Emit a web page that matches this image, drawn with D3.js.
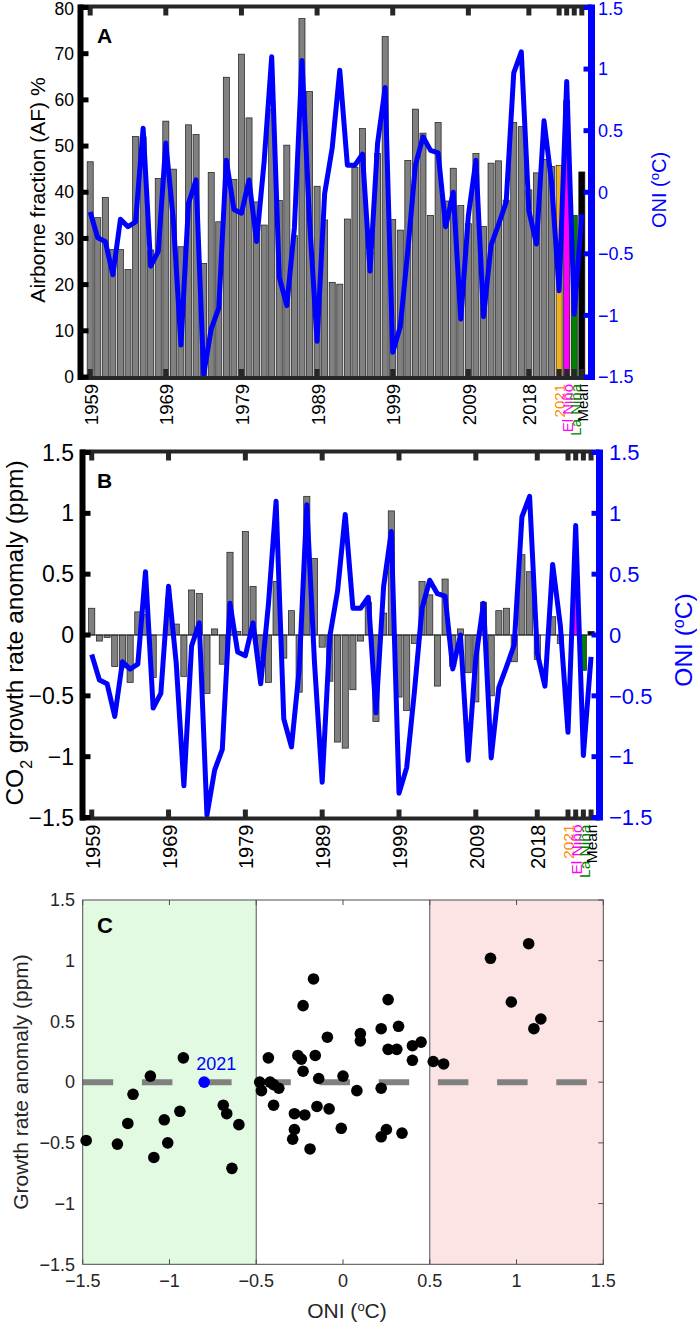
<!DOCTYPE html>
<html><head><meta charset="utf-8">
<script src="https://cdn.jsdelivr.net/npm/d3@7"></script>
<style>
body{margin:0;background:#fff}
svg{display:block}
text{font-family:"Liberation Sans",Arial,Helvetica,sans-serif}
</style>
</head><body>
<svg id="chart" width="697" height="1340"></svg>
<script>
// ---------------- DATA ----------------
// categories: annual bars 1959-2020, then 2021 and composite bars
const yearCats = d3.range(1959, 2021).map(String);
const extraCats = ["2021", "El Niño", "La Niña", "Mean"];
const categories = yearCats.concat(extraCats);

// Airborne fraction (%)
const airborneFraction = [
  46.6, 34.5, 38.9, 27.6, 27.6, 23.3, 52.1, 52.0, 27.5, 43.0,
  55.4, 45.0, 28.2, 54.6, 52.5, 24.6, 44.3, 33.6, 64.9, 42.8,
  69.9, 56.1, 37.9, 32.9, 58.0, 38.2, 50.2, 30.6, 77.6, 61.8,
  41.3, 34.0, 20.5, 20.1, 34.2, 45.4, 53.8, 27.0, 48.4, 73.7,
  34.1, 31.8, 46.9, 58.0, 52.8, 35.0, 55.1, 38.1, 45.2, 37.1,
  33.2, 48.4, 32.6, 46.3, 46.8, 38.3, 55.1, 54.2, 40.5, 44.2,
  47.1, 45.6,
  45.8, 59.8, 35.0, 44.4
];

// Oceanic Nino Index (deg C)
const oni = [
  -0.16, -0.37, -0.40, -0.67, -0.22, -0.28, -0.24, 0.52, -0.60, -0.48,
   0.40, -0.23, -1.24, -0.09, 0.10, -1.48, -1.11, -0.94, 0.26, -0.14,
  -0.17, 0.10, -0.40, 0.25, 1.10, -0.69, -0.92, -0.29, 1.07, -0.23,
  -1.21, -0.01, 0.36, 0.99, 0.22, 0.22, 0.31, -0.64, 0.40, 0.85,
  -1.30, -1.09, -0.47, 0.22, 0.45, 0.34, 0.32, -0.28, 0.00, -1.03,
  -0.19, 0.26, -1.01, -0.43, -0.26, -0.08, 0.97, 1.14, -0.15, -0.42,
   0.58, 0.08,
  -0.80, 0.90, -0.99, -0.18
];

// CO2 growth rate anomaly (ppm)
const growthAnomaly = [
   0.22, -0.05, -0.02, -0.26, -0.27, -0.39, 0.19, 0.17, -0.35, 0.00,
   0.30, 0.09, -0.34, 0.37, 0.34, -0.48, 0.05, -0.24, 0.68, 0.03,
   0.85, 0.40, -0.19, -0.39, 0.44, -0.19, 0.20, -0.47, 1.14, 0.63,
  -0.10, -0.38, -0.88, -0.93, -0.45, -0.05, 0.27, -0.71, 0.18, 1.02,
  -0.51, -0.62, -0.07, 0.44, 0.33, -0.42, 0.46, -0.26, 0.05, -0.31,
  -0.55, 0.27, -0.50, 0.20, 0.22, -0.22, 0.66, 0.52, -0.20, 0.00,
   0.15, -0.07,
   0.00, 0.59, -0.29, 0.03
];

// x tick labels of panels A and B (category index of each tick)
const xTickLabels = ["1959", "1969", "1979", "1989", "1999", "2009", "2018", "2021", "El Niño", "La Niña", "Mean"];
const xTickIndex  = [0, 10, 20, 30, 40, 50, 58, 62, 63, 64, 65];

const afTicks = [0, 10, 20, 30, 40, 50, 60, 70, 80];
const oniTicks = [-1.5, -1, -0.5, 0, 0.5, 1, 1.5];
const graTicks = [-1.5, -1, -0.5, 0, 0.5, 1, 1.5];
const scatterTicks = [-1.5, -1, -0.5, 0, 0.5, 1, 1.5];

// scatter: years 1959-2021, excluding Pinatubo years
const scatterYears = d3.range(1959, 2022);
const excludedYears = [1991, 1992];
const highlightYear = 2021;

// ---------------- DRAW ----------------
const svg = d3.select("#chart");
const BLUE = "#0000ff";
const AXC = "#262626";
const fmt = v => (v < 0 ? "\u2212" : "") + String(Math.abs(v));
const barColor = c => c === "El Niño" ? "#ff00ff" : c === "La Niña" ? "#008000" : c === "Mean" ? "#000000" : "#edb120";
const labColor = l => l === "2021" ? "#ff8c00" : l === "El Niño" ? "#ff00ff" : l === "La Niña" ? "#008000" : "#000";

function framePanel(P, xs, yearFont, extraFont) {
  const g = svg.append("g");
  g.append("line").attr("x1", P.l - 2).attr("x2", P.r).attr("y1", P.t - 1).attr("y2", P.t - 1)
    .attr("stroke", AXC).attr("stroke-width", 4);
  g.append("line").attr("x1", P.l - 2).attr("x2", P.r).attr("y1", P.b + 1).attr("y2", P.b + 1)
    .attr("stroke", AXC).attr("stroke-width", 4);
  xTickIndex.forEach(i => {
    const x = xs(i);
    g.append("line").attr("x1", x).attr("x2", x).attr("y1", P.t).attr("y2", P.t + 8)
      .attr("stroke", AXC).attr("stroke-width", 5);
    g.append("line").attr("x1", x).attr("x2", x).attr("y1", P.b).attr("y2", P.b - 8)
      .attr("stroke", AXC).attr("stroke-width", 5);
  });
  xTickIndex.forEach((i, j) => {
    const lab = xTickLabels[j];
    const extra = j >= 7;
    g.append("text").attr("transform", `translate(${xs(i) + 1},${P.b + 7}) rotate(-90)`)
      .attr("text-anchor", "end").attr("dy", "0.35em")
      .attr("font-size", extra ? extraFont : yearFont).attr("fill", labColor(lab)).text(lab);
  });
  return g;
}

// ===== Panel A =====
const PA = {l: 80.5, r: 591.5, t: 7.5, b: 377};
const xA = d3.scaleLinear().domain([-1.28, 66.28]).range([PA.l, PA.r]);
const yA = d3.scaleLinear().domain([0, 80]).range([PA.b, PA.t]);
const oA = d3.scaleLinear().domain([-1.5, 1.5]).range([PA.b, PA.t]);
const stepA = xA(1) - xA(0);

svg.append("g").selectAll("rect").data(categories).join("rect")
  .attr("x", (d, i) => xA(i) - stepA * 0.4)
  .attr("width", stepA * 0.8)
  .attr("y", (d, i) => yA(airborneFraction[i]))
  .attr("height", (d, i) => yA(0) - yA(airborneFraction[i]))
  .attr("fill", (d, i) => i >= 62 ? barColor(d) : "#808080")
  .attr("stroke", "#1a1a1a").attr("stroke-width", 0.7);

svg.append("path").datum(oni)
  .attr("d", d3.line().x((d, i) => xA(i)).y(d => oA(d)))
  .attr("fill", "none").attr("stroke", BLUE).attr("stroke-width", 5).attr("stroke-linejoin", "round");

framePanel(PA, xA, 18.5, 15);
svg.append("line").attr("x1", PA.l).attr("x2", PA.l).attr("y1", PA.t - 3).attr("y2", PA.b + 3)
  .attr("stroke", "#000").attr("stroke-width", 6);
afTicks.forEach(v => {
  svg.append("line").attr("x1", PA.l).attr("x2", PA.l + 8).attr("y1", yA(v)).attr("y2", yA(v))
    .attr("stroke", "#000").attr("stroke-width", 5);
  svg.append("text").attr("x", 74).attr("y", yA(v) + (v === 80 ? 1.5 : 0)).attr("dy", "0.35em").attr("text-anchor", "end")
    .attr("font-size", 17.5).attr("fill", "#000").text(v);
});
svg.append("line").attr("x1", PA.r).attr("x2", PA.r).attr("y1", PA.t - 3).attr("y2", PA.b + 3)
  .attr("stroke", BLUE).attr("stroke-width", 7);
oniTicks.forEach(v => {
  svg.append("line").attr("x1", PA.r).attr("x2", PA.r - 8).attr("y1", oA(v)).attr("y2", oA(v))
    .attr("stroke", BLUE).attr("stroke-width", 5);
  svg.append("text").attr("x", 598).attr("y", oA(v) + (v === 1.5 ? 1.5 : 0)).attr("dy", "0.35em")
    .attr("font-size", 18).attr("fill", BLUE).text(fmt(v));
});
svg.append("text").attr("transform", "translate(45,190) rotate(-90)").attr("text-anchor", "middle")
  .attr("font-size", 21).text("Airborne fraction (AF) %");
{
  const t = svg.append("text").attr("transform", "translate(666,190) rotate(-90)").attr("text-anchor", "middle")
    .attr("font-size", 20).attr("fill", BLUE);
  t.append("tspan").text("ONI (");
  t.append("tspan").attr("baseline-shift", "super").attr("font-size", 13).text("o");
  t.append("tspan").text("C)");
}
svg.append("text").attr("x", 97).attr("y", 43).attr("font-size", 21).attr("font-weight", "bold").text("A");

// ===== Panel B =====
const PB = {l: 82.5, r: 599.5, t: 452.5, b: 817.5};
const xB = d3.scaleLinear().domain([-1.2, 66.1]).range([PB.l, PB.r]);
const yB = d3.scaleLinear().domain([-1.5, 1.5]).range([PB.b, PB.t]);
const stepB = xB(1) - xB(0);

svg.append("g").selectAll("rect").data(categories).join("rect")
  .attr("x", (d, i) => xB(i) - stepB * 0.4)
  .attr("width", stepB * 0.8)
  .attr("y", (d, i) => yB(Math.max(0, growthAnomaly[i])))
  .attr("height", (d, i) => Math.abs(yB(growthAnomaly[i]) - yB(0)))
  .attr("fill", (d, i) => i >= 62 ? barColor(d) : "#808080")
  .attr("stroke", "#1a1a1a").attr("stroke-width", 0.7);
svg.append("line").attr("x1", PB.l).attr("x2", PB.r).attr("y1", yB(0)).attr("y2", yB(0))
  .attr("stroke", "#222").attr("stroke-width", 1);

svg.append("path").datum(oni)
  .attr("d", d3.line().x((d, i) => xB(i)).y(d => yB(d)))
  .attr("fill", "none").attr("stroke", BLUE).attr("stroke-width", 5).attr("stroke-linejoin", "round");

framePanel(PB, xB, 20, 15.5);
svg.append("line").attr("x1", PB.l).attr("x2", PB.l).attr("y1", PB.t - 3).attr("y2", PB.b + 3)
  .attr("stroke", "#000").attr("stroke-width", 6);
graTicks.forEach(v => {
  svg.append("line").attr("x1", PB.l).attr("x2", PB.l + 8).attr("y1", yB(v)).attr("y2", yB(v))
    .attr("stroke", "#000").attr("stroke-width", 5);
  svg.append("text").attr("x", 74).attr("y", yB(v)).attr("dy", "0.35em").attr("text-anchor", "end")
    .attr("font-size", 23).attr("fill", "#000").text(fmt(v));
});
svg.append("line").attr("x1", PB.r).attr("x2", PB.r).attr("y1", PB.t - 3).attr("y2", PB.b + 3)
  .attr("stroke", BLUE).attr("stroke-width", 7);
oniTicks.forEach(v => {
  svg.append("line").attr("x1", PB.r).attr("x2", PB.r - 8).attr("y1", yB(v)).attr("y2", yB(v))
    .attr("stroke", BLUE).attr("stroke-width", 5);
  svg.append("text").attr("x", 609).attr("y", yB(v)).attr("dy", "0.35em")
    .attr("font-size", 22).attr("fill", BLUE).text(fmt(v));
});
{
  const t = svg.append("text").attr("transform", "translate(23,633) rotate(-90)").attr("text-anchor", "middle")
    .attr("font-size", 24.5);
  t.append("tspan").text("CO");
  t.append("tspan").attr("baseline-shift", "sub").attr("font-size", 16).text("2");
  t.append("tspan").text(" growth rate anomaly (ppm)");
  const t2 = svg.append("text").attr("transform", "translate(692,640) rotate(-90)").attr("text-anchor", "middle")
    .attr("font-size", 24.5).attr("fill", BLUE);
  t2.append("tspan").text("ONI (");
  t2.append("tspan").attr("baseline-shift", "super").attr("font-size", 16).text("o");
  t2.append("tspan").text("C)");
}
svg.append("text").attr("x", 97).attr("y", 488).attr("font-size", 21).attr("font-weight", "bold").text("B");

// ===== Panel C =====
const PC = {l: 82.7, r: 603.3, t: 900, b: 1264.3};
const xC = d3.scaleLinear().domain([-1.5, 1.5]).range([PC.l, PC.r]);
const yC = d3.scaleLinear().domain([-1.5, 1.5]).range([PC.b, PC.t]);
const gC = svg.append("g");
gC.append("rect").attr("x", xC(-1.5)).attr("y", PC.t).attr("width", xC(-0.5) - xC(-1.5)).attr("height", PC.b - PC.t)
  .attr("fill", "#e1fae1");
gC.append("rect").attr("x", xC(0.5)).attr("y", PC.t).attr("width", xC(1.5) - xC(0.5)).attr("height", PC.b - PC.t)
  .attr("fill", "#fde4e4");
[-0.5, 0.5].forEach(v => gC.append("line").attr("x1", xC(v)).attr("x2", xC(v)).attr("y1", PC.t).attr("y2", PC.b)
  .attr("stroke", "#555").attr("stroke-width", 1));
gC.append("line").attr("x1", xC(-1.5)).attr("x2", xC(1.5)).attr("y1", yC(0)).attr("y2", yC(0))
  .attr("stroke", "#808080").attr("stroke-width", 6).attr("stroke-dasharray", "30.5,28.7");
gC.append("rect").attr("x", PC.l).attr("y", PC.t).attr("width", PC.r - PC.l).attr("height", PC.b - PC.t)
  .attr("fill", "none").attr("stroke", "#4d4d4d").attr("stroke-width", 1);
scatterTicks.forEach(v => {
  gC.append("line").attr("x1", xC(v)).attr("x2", xC(v)).attr("y1", PC.t).attr("y2", PC.t + 5).attr("stroke", "#4d4d4d");
  gC.append("line").attr("x1", xC(v)).attr("x2", xC(v)).attr("y1", PC.b).attr("y2", PC.b - 5).attr("stroke", "#4d4d4d");
  gC.append("line").attr("x1", PC.r).attr("x2", PC.r - 5).attr("y1", yC(v)).attr("y2", yC(v)).attr("stroke", "#4d4d4d");
  gC.append("text").attr("x", xC(v)).attr("y", PC.b + 23).attr("text-anchor", "middle")
    .attr("font-size", 18).attr("fill", "#262626").text(fmt(v));
  gC.append("text").attr("x", 75).attr("y", yC(v)).attr("dy", "0.35em").attr("text-anchor", "end")
    .attr("font-size", 18).attr("fill", "#262626").text(fmt(v));
});
const pts = scatterYears.map((y, k) => ({year: y, x: oni[k], y: growthAnomaly[k]}))
  .filter(p => !excludedYears.includes(p.year));
gC.selectAll("circle.pt").data(pts.filter(p => p.year !== highlightYear)).join("circle")
  .attr("class", "pt").attr("cx", p => xC(p.x)).attr("cy", p => yC(p.y)).attr("r", 5.8).attr("fill", "#000");
const hp = pts.find(p => p.year === highlightYear);
gC.append("circle").attr("cx", xC(hp.x)).attr("cy", yC(hp.y)).attr("r", 5.8).attr("fill", BLUE);
gC.append("text").attr("x", xC(hp.x) + 12).attr("y", yC(hp.y) - 12).attr("text-anchor", "middle")
  .attr("font-size", 18).attr("fill", BLUE).text(String(hp.year));
gC.append("text").attr("transform", "translate(28,1082) rotate(-90)").attr("text-anchor", "middle")
  .attr("font-size", 21).attr("fill", "#262626").text("Growth rate anomaly (ppm)");
{
  const t = gC.append("text").attr("x", 347).attr("y", 1318).attr("text-anchor", "middle")
    .attr("font-size", 21).attr("fill", "#262626");
  t.append("tspan").text("ONI (");
  t.append("tspan").attr("baseline-shift", "super").attr("font-size", 13).text("o");
  t.append("tspan").text("C)");
}
gC.append("text").attr("x", 97).attr("y", 933).attr("font-size", 22).attr("font-weight", "bold").text("C");
</script>
</body></html>
